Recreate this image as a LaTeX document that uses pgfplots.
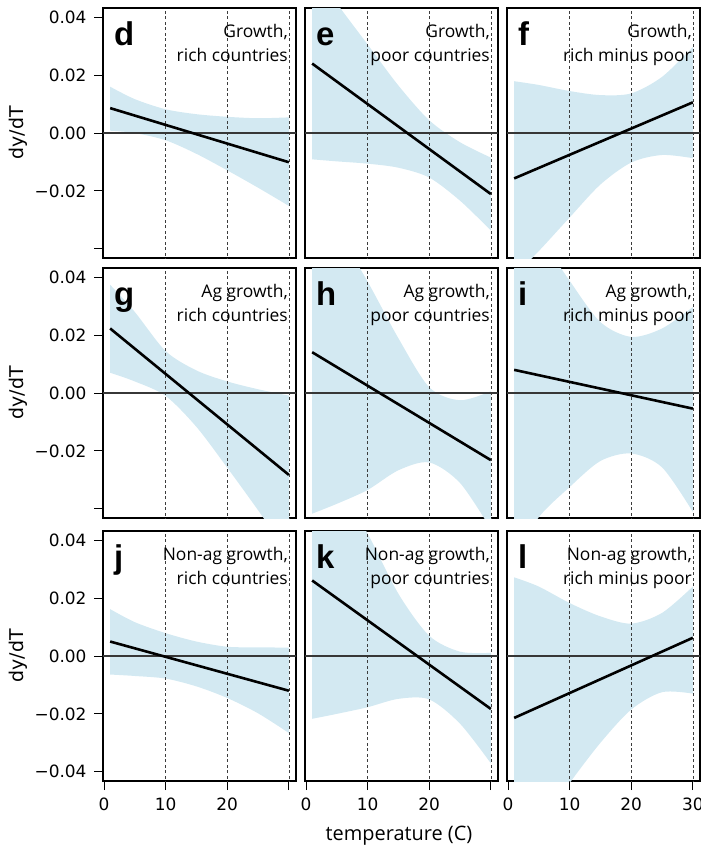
\documentclass[border=0pt]{standalone}
\usepackage{fontspec}
\setmainfont{Open Sans}
\newfontfamily\tickfont{DejaVu Sans}
\newfontfamily\letterfont{Liberation Sans}
\usepackage{pgfplots}
\pgfplotsset{compat=1.18}
\usepgfplotslibrary{fillbetween}
\definecolor{bandc}{RGB}{211,233,242}
\definecolor{zeroc}{RGB}{55,55,55}
\definecolor{dashc}{RGB}{60,60,60}

\pgfplotsset{
  panel/.style={
    scale only axis, width=193bp, height=250bp,
    anchor=north west,
    xmin=-0.16, xmax=31.16, ymin=-0.0432, ymax=0.0432,
    axis line style={line width=1.2bp, black},
    tick style={line width=0.9bp, black},
    major tick length=9bp, tick align=outside,
    xtick pos=left, ytick pos=left,
    xtick=\empty, ytick=\empty,
    scaled y ticks=false, scaled x ticks=false,
    tick label style={font=\tickfont\fontsize{17}{20}\selectfont},
    yticklabel style={xshift=-4bp},
    xticklabel style={yshift=-4bp},
    clip=true,
  },
  ycol/.style={ytick={-0.04,-0.02,0,0.02,0.04}},
  yl12/.style={ycol, yticklabels={,−0.02,0.00,0.02,0.04}},
  yl3/.style={ycol, yticklabels={−0.04,−0.02,0.00,0.02,0.04}},
  xl/.style={xtick={0,10,20,30}, xticklabels={0,10,20,}},
  xl3/.style={xtick={0,10,20,30}, xticklabels={0,10,20,30}},
}

\newcommand{\drawpanel}[8]{%
  \begin{axis}[panel, at={#1}, #2]
    \addplot[name path=U, draw=none, smooth] coordinates {#3};
    \addplot[name path=L, draw=none, smooth] coordinates {#4};
    \addplot[fill=bandc, draw=none] fill between[of=U and L];
    \addplot[dashc, dash pattern=on 3bp off 2.5bp, line width=0.7bp] coordinates {(10,-0.05) (10,0.05)};
    \addplot[dashc, dash pattern=on 3bp off 2.5bp, line width=0.7bp] coordinates {(20,-0.05) (20,0.05)};
    \addplot[dashc, dash pattern=on 3bp off 2.5bp, line width=0.7bp] coordinates {(30,-0.05) (30,0.05)};
    \addplot[zeroc, line width=1.2bp] coordinates {(-1,0) (32,0)};
    \addplot[black, line width=2.6bp] coordinates {#5};
    \node[anchor=base west, inner sep=0pt, font=\letterfont\bfseries\fontsize{33}{33}\selectfont]
      at ([xshift=11bp, yshift=-37bp]rel axis cs:0,1) {#6};
    \node[anchor=base east, inner sep=0pt, font=\fontsize{17.5}{20}\selectfont]
      at ([xshift=-8bp, yshift=-29.7bp]rel axis cs:1,1) {#7};
    \node[anchor=base east, inner sep=0pt, font=\fontsize{17.5}{20}\selectfont]
      at ([xshift=-8bp, yshift=-53.7bp]rel axis cs:1,1) {#8};
  \end{axis}}

\begin{document}
\begin{tikzpicture}

% Row 1
\drawpanel{(103bp,-8bp)}{yl12}
  {(1,0.0160) (5,0.0117) (10,0.0082) (15,0.0065) (20,0.0056) (25,0.0051) (30,0.0054)}
  {(1,0.0008) (5,0.0000) (10,-0.0025) (15,-0.0072) (20,-0.0129) (25,-0.0189) (30,-0.0252)}
  {(1,0.0086) (30,-0.0101)}
  {d}{Growth,}{rich countries}
\drawpanel{(305bp,-8bp)}{}
  {(1,0.0571) (5,0.0448) (10,0.0306) (15,0.0164) (20,0.0044) (25,-0.0032) (30,-0.0085)}
  {(1,-0.0091) (5,-0.0098) (10,-0.0106) (15,-0.0120) (20,-0.0154) (25,-0.0234) (30,-0.0337)}
  {(1,0.0240) (30,-0.0211)}
  {e}{Growth,}{poor countries}
\drawpanel{(507bp,-8bp)}{}
  {(1,0.0179) (5,0.0166) (10,0.0145) (15,0.0131) (20,0.0137) (25,0.0194) (30,0.0297)}
  {(1,-0.0493) (5,-0.0408) (10,-0.0292) (15,-0.0178) (20,-0.0102) (25,-0.0076) (30,-0.0087)}
  {(1,-0.0157) (30,0.0106)}
  {f}{Growth,}{rich minus poor}

% Row 2
\drawpanel{(103bp,-268bp)}{yl12}
  {(1,0.0374) (5,0.0280) (10,0.0145) (15,0.0078) (20,0.0040) (25,0.0013) (30,-0.0009)}
  {(1,0.0070) (5,0.0040) (10,-0.0010) (15,-0.0117) (20,-0.0258) (25,-0.0405) (30,-0.0557)}
  {(1,0.0223) (30,-0.0283)}
  {g}{Ag growth,}{rich countries}
\drawpanel{(305bp,-268bp)}{}
  {(1,0.0699) (5,0.0563) (10,0.0385) (15,0.0189) (20,0.0020) (25,-0.0025) (30,0.0006)}
  {(1,-0.0417) (5,-0.0383) (10,-0.0335) (15,-0.0267) (20,-0.0240) (25,-0.0311) (30,-0.0470)}
  {(1,0.0141) (30,-0.0232)}
  {h}{Ag growth,}{poor countries}
\drawpanel{(507bp,-268bp)}{}
  {(1,0.0730) (5,0.0550) (10,0.0388) (15,0.0245) (20,0.0194) (25,0.0223) (30,0.0297)}
  {(1,-0.0570) (5,-0.0429) (10,-0.0325) (15,-0.0235) (20,-0.0209) (25,-0.0257) (30,-0.0411)}
  {(1,0.0080) (30,-0.0054)}
  {i}{Ag growth,}{rich minus poor}

% Row 3
\drawpanel{(103bp,-531bp)}{yl3, xl}
  {(1,0.0162) (5,0.0117) (10,0.0079) (15,0.0050) (20,0.0032) (25,0.0030) (30,0.0029)}
  {(1,-0.0064) (5,-0.0069) (10,-0.0078) (15,-0.0105) (20,-0.0145) (25,-0.0198) (30,-0.0266)}
  {(1,0.0050) (30,-0.0120)}
  {j}{Non-ag growth,}{rich countries}
\drawpanel{(305bp,-531bp)}{xl}
  {(1,0.0739) (5,0.0600) (10,0.0423) (15,0.0215) (20,0.0070) (25,0.0015) (30,0.0011)}
  {(1,-0.0217) (5,-0.0200) (10,-0.0177) (15,-0.0148) (20,-0.0150) (25,-0.0234) (30,-0.0371)}
  {(1,0.0261) (30,-0.0183)}
  {k}{Non-ag growth,}{poor countries}
\drawpanel{(507bp,-531bp)}{xl3}
  {(1,0.0272) (5,0.0240) (10,0.0183) (15,0.0137) (20,0.0112) (25,0.0149) (30,0.0240)}
  {(1,-0.0700) (5,-0.0590) (10,-0.0439) (15,-0.0300) (20,-0.0185) (25,-0.0125) (30,-0.0130)}
  {(1,-0.0214) (30,0.0063)}
  {l}{Non-ag growth,}{rich minus poor}

% axis titles
\node[rotate=90, font=\tickfont\fontsize{19}{22}\selectfont] at (18bp,-133bp) {dy/dT};
\node[rotate=90, font=\tickfont\fontsize{19}{22}\selectfont] at (18bp,-393bp) {dy/dT};
\node[rotate=90, font=\tickfont\fontsize{19}{22}\selectfont] at (18bp,-656bp) {dy/dT};
\node[anchor=base, inner sep=0pt, font=\fontsize{20}{24}\selectfont] at (399bp,-840bp) {temperature (C)};
\pgfresetboundingbox
\useasboundingbox (0,0) rectangle (701bp,-852bp);
\end{tikzpicture}
\end{document}
